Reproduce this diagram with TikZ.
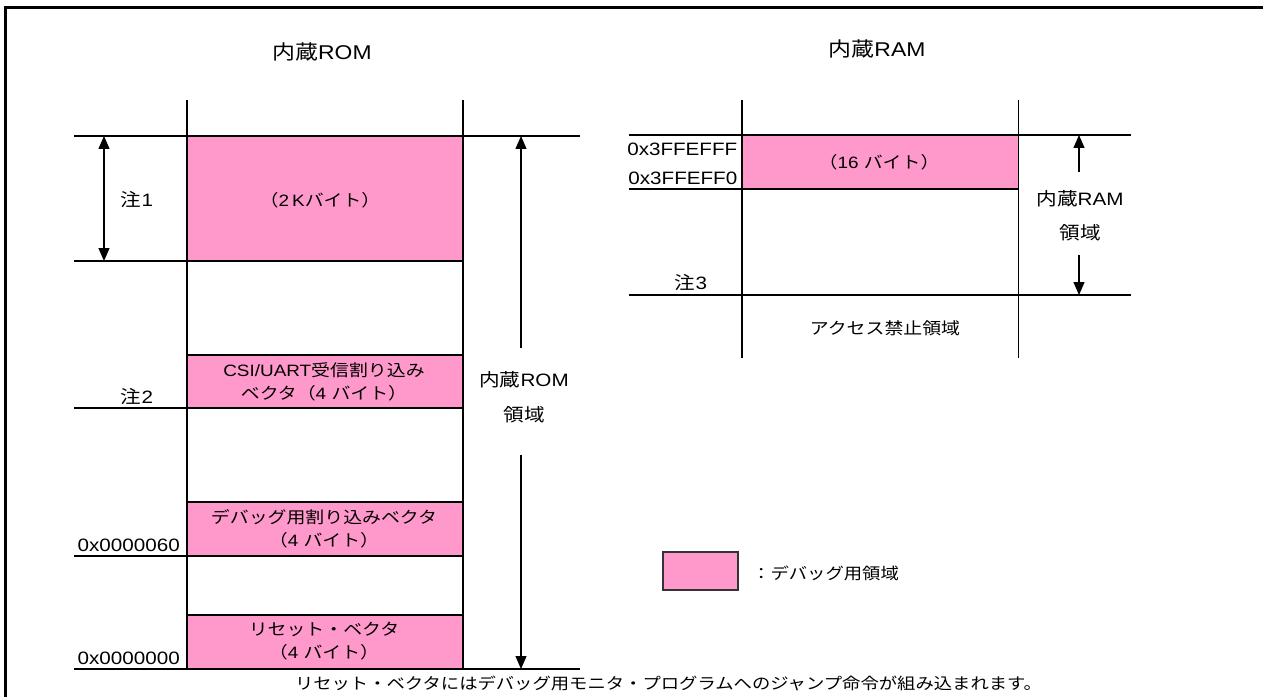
\documentclass[tikz,border=0pt]{standalone}
\usepackage{fontspec}
\usepackage{graphicx}
\setmainfont{Liberation Sans}
\newfontfamily\jp{Noto Sans CJK JP}
\usetikzlibrary{arrows.meta}
\definecolor{dbg}{HTML}{FF99CC}
\definecolor{lgd}{HTML}{333333}
\begin{document}
\begin{tikzpicture}[x=1bp,y=-1bp,
  ln/.style={line width=1.1bp},
  pinkbox/.style={draw, line width=1.3bp, fill=dbg},
  t/.style={inner sep=0pt, xscale=1.15, align=center},
  ftitle/.style={font=\fontsize{20}{24}\selectfont},
  flab/.style={font=\fontsize{18}{22}\selectfont},
  fbox/.style={font=\fontsize{16.5}{23}\selectfont},
  tip/.tip={Triangle[length=13bp,width=11bp]},
  arr/.style={line width=1.3bp, -tip},
  darr/.style={line width=1.3bp, tip-tip},
  ]
\useasboundingbox (0,0) rectangle (1263,697);
% frame
\draw[line width=2.5bp] (1263,7.5) -- (5.5,7.5) -- (5.5,697);

% ---------- ROM ----------
\draw[ln] (187,100) -- (187,669);
\draw[ln] (463,100) -- (463,669);
\draw[pinkbox] (187,136) rectangle (463,261);
\draw[pinkbox] (187,355) rectangle (463,408);
\draw[pinkbox] (187,502) rectangle (463,556);
\draw[pinkbox] (187,615) rectangle (463,669);
\draw[ln] (74,136) -- (580,136);
\draw[ln] (74,261) -- (187,261);
\draw[ln] (74,408) -- (187,408);
\draw[ln] (74,556) -- (187,556);
\draw[ln] (74,669) -- (580,669);

\node[t, ftitle] (romtitle) at (322,52) {{\jp 内蔵}ROM};
\node[t, flab] (n1) at (137,200) {{\jp 注}1};
\node[t, fbox] (k2t) at (320,200) {{\jp （}2\,K{\jp バイト）}};
\node[t, fbox] (csit) at (324,381.5) {CSI/UART{\jp 受信割り込み}\\{\jp ベクタ（}4 {\jp バイト）}};
\node[t, flab] (n2) at (137,397) {{\jp 注}2};
\node[t, fbox] (dbgt) at (324,528.5) {{\jp デバッグ用割り込みベクタ}\\{\jp （}4 {\jp バイト）}};
\node[t, flab, anchor=east] (a60) at (180,545) {0x0000060};
\node[t, fbox] (rst) at (324,641.5) {{\jp リセット・ベクタ}\\{\jp （}4 {\jp バイト）}};
\node[t, flab, anchor=east] (a00) at (180,658) {0x0000000};
\node[t, flab, font=\fontsize{18}{35}\selectfont] (romarea) at (524,397.5) {{\jp 内蔵}ROM\\{\jp 領域}};

\coordinate (n1t) at (104,136);
\coordinate (n1b) at (104,261);
\draw[darr] (n1t) -- (n1b);
\coordinate (rau) at (521,348);
\coordinate (rat) at (521,136);
\coordinate (rad) at (521,455);
\coordinate (rab) at (521,669);
\draw[arr] (rau) -- (rat);
\draw[arr] (rad) -- (rab);

% ---------- RAM ----------
\draw[ln] (742,100) -- (742,358);
\draw[ln] (1018.5,100) -- (1018.5,358);
\draw[pinkbox] (742,135) rectangle (1018.5,189);
\draw[ln] (629,135) -- (1131,135);
\draw[ln] (629,189) -- (742,189);
\draw[ln] (629,295) -- (1131,295);

\node[t, ftitle] (ramtitle) at (877,49) {{\jp 内蔵}RAM};
\node[t, flab, anchor=east] (aff) at (737.5,149) {0x3FFEFFF};
\node[t, flab, anchor=east] (af0) at (737.5,178) {0x3FFEFF0};
\node[t, fbox] (b16) at (879,162) {{\jp （}16 {\jp バイト）}};
\node[t, flab] (n3) at (691,283) {{\jp 注}3};
\node[t, fbox] (ng) at (885,328) {{\jp アクセス禁止領域}};
\node[t, flab, font=\fontsize{18}{34}\selectfont] (ramarea) at (1080,215.5) {{\jp 内蔵}RAM\\{\jp 領域}};

\coordinate (mau) at (1079,172);
\coordinate (mat) at (1079,135);
\coordinate (mad) at (1079,255);
\coordinate (mab) at (1079,295);
\draw[arr] (mau) -- (mat);
\draw[arr] (mad) -- (mab);

% ---------- legend ----------
\node[draw=lgd, line width=2bp, fill=dbg, minimum width=75bp, minimum height=38bp, inner sep=0] (lg) at (700.5,571) {};
\node[t, font=\fontsize{16}{20}\selectfont, anchor=west] (lgt) at (752,573) {{\jp ：デバッグ用領域}};

% ---------- note ----------
\node[t, font=\fontsize{16}{20}\selectfont] (note) at (668.5,683) {{\jp リセット・ベクタにはデバッグ用モニタ・プログラムへのジャンプ命令が組み込まれます。}};
\end{tikzpicture}
\end{document}
